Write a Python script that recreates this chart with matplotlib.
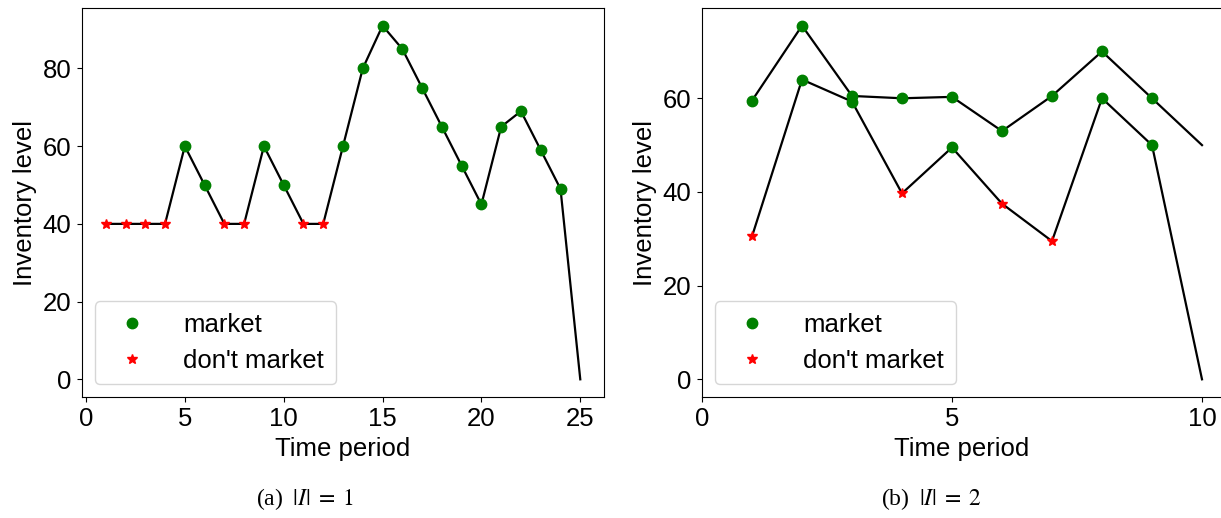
import matplotlib
matplotlib.use("Agg")
import matplotlib.pyplot as plt

# (a) |I| = 1
periods_a = list(range(1, 26))
level_a = [40, 40, 40, 40, 60, 50, 40, 40, 60, 50, 40, 40, 60, 80, 91, 85,
           75, 65, 55, 45, 65, 69, 59, 49, 0]
market_a = [0, 0, 0, 0, 1, 1, 0, 0, 1, 1, 0, 0, 1, 1, 1, 1,
            1, 1, 1, 1, 1, 1, 1, 1, None]

# (b) |I| = 2, two items
periods_b = list(range(1, 11))
level_b1 = [59.5, 75.5, 60.5, 60.0, 60.3, 53.0, 60.5, 70.0, 60.0, 50.0]
market_b1 = [1, 1, 1, 1, 1, 1, 1, 1, 1, None]
level_b2 = [30.5, 64.0, 59.3, 39.7, 49.5, 37.5, 29.5, 60.0, 50.0, 0.0]
market_b2 = [0, 1, 1, 0, 1, 0, 0, 1, 1, None]

FS = 18.5
plt.rcParams["font.family"] = ["Liberation Sans", "DejaVu Sans"]
plt.rcParams["font.size"] = FS


def draw_item(ax, periods, levels, flags, label=True):
    ax.plot(periods, levels, color="black", linewidth=1.6, zorder=2)
    mx = [p for p, f in zip(periods, flags) if f == 1]
    my = [v for v, f in zip(levels, flags) if f == 1]
    sx = [p for p, f in zip(periods, flags) if f == 0]
    sy = [v for v, f in zip(levels, flags) if f == 0]
    ax.plot(mx, my, "o", color="green", markersize=7.5, zorder=3,
            label="market" if label else None)
    ax.plot(sx, sy, "*", color="red", markersize=7.5, zorder=3,
            label="don't market" if label else None)


fig = plt.figure(figsize=(12.21, 5.18), dpi=100)
ax1 = fig.add_axes([82 / 1221, 1 - 397 / 518, 522 / 1221, 389 / 518])
ax2 = fig.add_axes([702 / 1221, 1 - 397 / 518, 520 / 1221, 389 / 518])

draw_item(ax1, periods_a, level_a, market_a)
ax1.set_xticks([0, 5, 10, 15, 20, 25])
ax1.set_yticks([0, 20, 40, 60, 80])

draw_item(ax2, periods_b, level_b1, market_b1)
draw_item(ax2, periods_b, level_b2, market_b2, label=False)
ax2.set_xlim(0, 10.4)
ax2.set_xticks([0, 5, 10])
ax2.set_yticks([0, 20, 40, 60])

for ax in (ax1, ax2):
    ax.tick_params(labelsize=FS, pad=4)
    ax.set_xlabel("Time period", labelpad=4)
    ax.set_ylabel("Inventory level", labelpad=4)
    ax.legend(loc="lower left", fontsize=FS, handletextpad=1.0,
              borderpad=0.45, labelspacing=0.45)

caption = dict(family="Liberation Serif", math_fontfamily="stix",
               fontsize=17, ha="center", va="center")
fig.text(305 / 1221, 1 - 499 / 518, r"(a) $\;|I| \;=\; 1$", **caption)
fig.text(932 / 1221, 1 - 499 / 518, r"(b) $\;|I| \;=\; 2$", **caption)

fig.savefig("out.png", dpi=100)
